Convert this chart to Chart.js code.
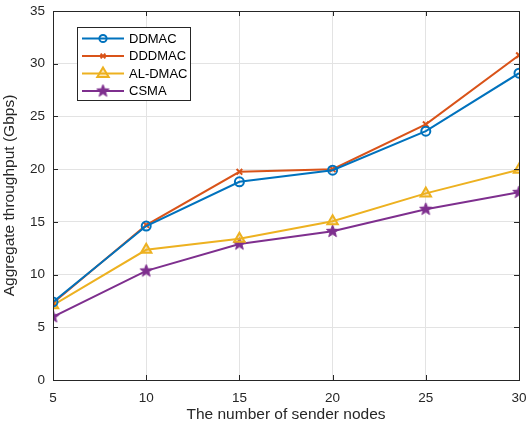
<!DOCTYPE html>
<html>
<head>
<meta charset="utf-8">
<script src="https://cdn.jsdelivr.net/npm/chart.js@4"></script>
<style>
  html, body { margin: 0; padding: 0; background: #fff; }
  #wrap { width: 527px; height: 430px; }
</style>
</head>
<body>
<div id="wrap"><canvas id="chart" width="527" height="430"></canvas></div>
<script>
// Data
const senderNodes = [5, 10, 15, 20, 25, 30];
const ddmac  = [7.4, 14.6, 18.8, 19.9, 23.6, 29.1];
const dddmac = [7.3, 14.7, 19.75, 20.0, 24.25, 30.8];
const aldmac = [7.1, 12.35, 13.4, 15.05, 17.7, 19.95];
const csma   = [6.0, 10.35, 12.9, 14.1, 16.2, 17.8];
const yTicks = [0, 5, 10, 15, 20, 25, 30, 35];

// Colors (MATLAB default order)
const COLOR_DDMAC  = "#0072BD";
const COLOR_DDDMAC = "#D95319";
const COLOR_ALDMAC = "#EDB120";
const COLOR_CSMA   = "#7E2F8E";
const AXIS_COLOR   = "#262626";
const GRID_COLOR   = "#e3e3e3";
const FONT = "'Liberation Sans', Arial, Helvetica, sans-serif";

// filled five point star for the CSMA marker
function makeStar(color, r) {
    const c = document.createElement("canvas");
    const s = Math.ceil(r * 2 + 4);
    c.width = s; c.height = s;
    const ctx = c.getContext("2d");
    ctx.translate(s / 2, s / 2);
    ctx.beginPath();
    for (let i = 0; i < 10; i++) {
        const rad = i % 2 === 0 ? r : r * 0.42;
        const a = -Math.PI / 2 + i * Math.PI / 5;
        ctx.lineTo(Math.cos(a) * rad, Math.sin(a) * rad);
    }
    ctx.closePath();
    ctx.fillStyle = color;
    ctx.fill();
    ctx.strokeStyle = color;
    ctx.lineWidth = 1;
    ctx.stroke();
    return c;
}
const starImg = makeStar(COLOR_CSMA, 6.5);

function toPoints(arr) {
    return arr.map((v, i) => ({ x: senderNodes[i], y: v }));
}

// Box, inward ticks and legend drawn the MATLAB way
const matlabAxes = {
    id: "matlabAxes",
    afterDatasetsDraw(chart) {
        const ctx = chart.ctx;
        const a = chart.chartArea;
        const xs = chart.scales.x, ys = chart.scales.y;
        ctx.save();
        ctx.strokeStyle = AXIS_COLOR;
        ctx.lineWidth = 1;
        ctx.beginPath();
        senderNodes.forEach(v => {
            const px = Math.round(xs.getPixelForValue(v)) + 0.5;
            ctx.moveTo(px, a.bottom); ctx.lineTo(px, a.bottom - 5);
            ctx.moveTo(px, a.top); ctx.lineTo(px, a.top + 5);
        });
        yTicks.forEach(v => {
            const py = Math.round(ys.getPixelForValue(v)) + 0.5;
            ctx.moveTo(a.left, py); ctx.lineTo(a.left + 5, py);
            ctx.moveTo(a.right, py); ctx.lineTo(a.right - 5, py);
        });
        ctx.stroke();
        ctx.strokeRect(Math.round(a.left) + 0.5, Math.round(a.top) + 0.5,
            Math.round(a.right - a.left), Math.round(a.bottom - a.top));

        // legend
        const lx = 77.5, ly = 27.5, lw = 113, lh = 73;
        ctx.fillStyle = "#fff";
        ctx.fillRect(lx, ly, lw, lh);
        ctx.strokeStyle = AXIS_COLOR;
        ctx.strokeRect(lx, ly, lw, lh);
        const rows = [38.5, 56, 73.5, 91];
        chart.data.datasets.forEach((ds, i) => {
            const y = rows[i];
            ctx.strokeStyle = ds.borderColor;
            ctx.lineWidth = 2;
            ctx.beginPath();
            ctx.moveTo(82, y); ctx.lineTo(124, y);
            ctx.stroke();
            const ps = ds.pointStyle;
            if (ps instanceof HTMLCanvasElement) {
                ctx.drawImage(ps, 103 - ps.width / 2, y - ps.height / 2);
            } else {
                ctx.fillStyle = ds.pointBackgroundColor;
                ctx.strokeStyle = ds.borderColor;
                ctx.lineWidth = ds.pointBorderWidth;
                ctx.beginPath();
                const r = ds.pointRadius;
                if (ps === "circle") ctx.arc(103, y, r * 0.8, 0, Math.PI * 2);
                if (ps === "triangle") {
                    ctx.moveTo(103, y - r);
                    ctx.lineTo(103 + r * 0.95, y + r * 0.6);
                    ctx.lineTo(103 - r * 0.95, y + r * 0.6);
                    ctx.closePath();
                }
                if (ps === "crossRot") {
                    const q = r * 0.6;
                    ctx.moveTo(103 - q, y - q); ctx.lineTo(103 + q, y + q);
                    ctx.moveTo(103 + q, y - q); ctx.lineTo(103 - q, y + q);
                }
                if (ps !== "crossRot") ctx.fill();
                ctx.stroke();
            }
            ctx.fillStyle = "#000";
            ctx.font = "13px " + FONT;
            ctx.textBaseline = "middle";
            ctx.textAlign = "left";
            ctx.fillText(ds.label, 129, y + 0.5);
        });
        ctx.restore();
    }
};

new Chart(document.getElementById("chart"), {
    type: "line",
    data: {
        datasets: [{
            label: "DDMAC",
            data: toPoints(ddmac),
            borderColor: COLOR_DDMAC,
            backgroundColor: COLOR_DDMAC,
            pointStyle: "circle",
            pointRadius: 4.5,
            pointBorderWidth: 2,
            pointBackgroundColor: "rgba(255,255,255,0)"
        }, {
            label: "DDDMAC",
            data: toPoints(dddmac),
            borderColor: COLOR_DDDMAC,
            backgroundColor: COLOR_DDDMAC,
            pointStyle: "crossRot",
            pointRadius: 4,
            pointBorderWidth: 2,
            pointBackgroundColor: COLOR_DDDMAC
        }, {
            label: "AL-DMAC",
            data: toPoints(aldmac),
            borderColor: COLOR_ALDMAC,
            backgroundColor: COLOR_ALDMAC,
            pointStyle: "triangle",
            pointRadius: 6,
            pointBorderWidth: 2,
            pointBackgroundColor: "rgba(237,177,32,0.3)"
        }, {
            label: "CSMA",
            data: toPoints(csma),
            borderColor: COLOR_CSMA,
            backgroundColor: COLOR_CSMA,
            pointStyle: starImg,
            pointRadius: 6.5,
            pointBorderWidth: 1,
            pointBackgroundColor: COLOR_CSMA
        }]
    },
    options: {
        responsive: false,
        animation: false,
        elements: {
            line: { borderWidth: 2, tension: 0, fill: false }
        },
        layout: { padding: { top: 0, right: 0, left: 0, bottom: 0 } },
        plugins: {
            legend: { display: false },
            tooltip: { enabled: false }
        },
        scales: {
            x: {
                type: "linear",
                min: 5,
                max: 30,
                afterBuildTicks: (s) => { s.ticks = senderNodes.map(v => ({ value: v })); },
                afterFit: (s) => { s.height = 50; s.paddingRight = 8; },
                grid: { color: GRID_COLOR, drawTicks: false },
                border: { display: false },
                ticks: { color: AXIS_COLOR, padding: 10, font: { family: FONT, size: 13.5 } },
                title: {
                    display: true,
                    text: "The number of sender nodes",
                    color: AXIS_COLOR,
                    padding: { top: 0, bottom: 6 },
                    font: { family: FONT, size: 15.5 }
                }
            },
            y: {
                type: "linear",
                min: 0,
                max: 35,
                afterBuildTicks: (s) => { s.ticks = yTicks.map(v => ({ value: v })); },
                afterFit: (s) => { s.width = 53; s.paddingTop = 11; },
                grid: { color: GRID_COLOR, drawTicks: false },
                border: { display: false },
                ticks: { color: AXIS_COLOR, padding: 8, font: { family: FONT, size: 13.5 } },
                title: {
                    display: true,
                    text: "Aggregate throughput (Gbps)",
                    color: AXIS_COLOR,
                    padding: { top: 0, bottom: 9 },
                    font: { family: FONT, size: 15.5 }
                }
            }
        }
    },
    plugins: [matlabAxes]
});
</script>
</body>
</html>
